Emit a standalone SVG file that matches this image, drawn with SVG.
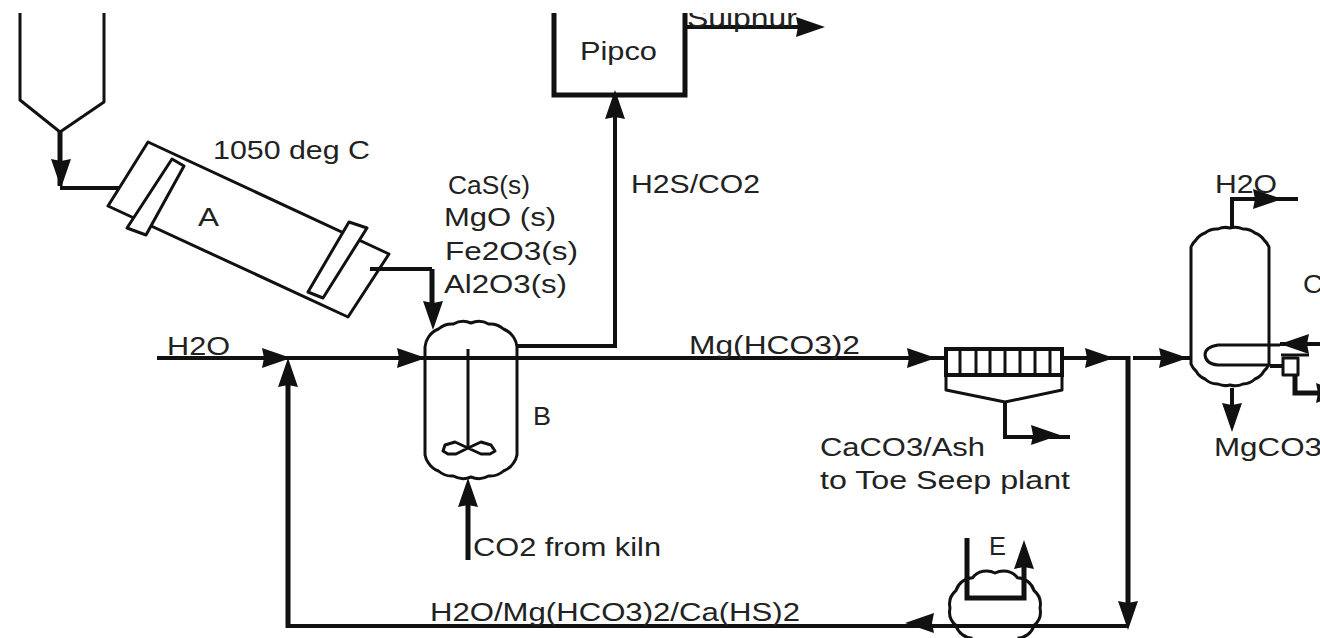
<svg xmlns="http://www.w3.org/2000/svg" width="1320" height="638" viewBox="0 0 1320 638">
<style>
text{font-family:"Liberation Sans",Arial,sans-serif;font-size:25px;fill:#222}
.l{fill:none;stroke:#111;stroke-width:3;stroke-linejoin:round}
.m{fill:none;stroke:#111;stroke-width:4;stroke-linejoin:miter}
.t{fill:none;stroke:#111;stroke-width:5;stroke-linejoin:miter}
.w{fill:#fff;stroke:#111;stroke-width:3;stroke-linejoin:round}
.a{fill:#111}
</style>
<defs>
<polygon id="ah" points="-29,-10 0,0 -29,10 -27,0"/>
<clipPath id="top"><rect x="0" y="13" width="1320" height="625"/></clipPath>
</defs>
<rect width="1320" height="638" fill="#fff"/>

<g id="connectors">
<path class="t" d="M60 132V186"/>
<path class="m" d="M60 188H125"/>
<path class="m" d="M370 269H432"/>
<path class="t" d="M432 269V305"/>
<path class="m" d="M157 358H945"/>
<path class="m" d="M517 346H615V110"/>
<path class="m" d="M1062 358H1126"/>
<path class="m" d="M1133 358H1191"/>
<path class="t" d="M1128 356V610"/>
<path class="m" d="M1128 626H288"/>
<path class="t" d="M288 628V375"/>
<path class="t" d="M468 560V490"/>
<path class="m" d="M1005 402V437H1070"/>
<path class="m" d="M1232 228V199H1298"/>
<path class="m" d="M1232 388V415"/>
<path class="m" d="M685 27H805"/>
<path class="m" d="M1320 344H1280"/>
<path class="m" d="M1270 366H1283"/>
<path class="t" d="M1295 374V393H1320"/>
<use href="#ah" class="a" transform="translate(61 188) rotate(90)"/>
<use href="#ah" class="a" transform="translate(433 330) rotate(90)"/>
<use href="#ah" class="a" transform="translate(291 358)"/>
<use href="#ah" class="a" transform="translate(426 358)"/>
<use href="#ah" class="a" transform="translate(615 90) rotate(-90)"/>
<use href="#ah" class="a" transform="translate(825 27)"/>
<use href="#ah" class="a" transform="translate(936 358)"/>
<use href="#ah" class="a" transform="translate(1114 358)"/>
<use href="#ah" class="a" transform="translate(1188 358)"/>
<use href="#ah" class="a" transform="translate(1060 435)"/>
<use href="#ah" class="a" transform="translate(1282 199)"/>
<use href="#ah" class="a" transform="translate(1232 432) rotate(90)"/>
<use href="#ah" class="a" transform="translate(1280 344) rotate(180)"/>
<use href="#ah" class="a" transform="translate(1345 393)"/>
<use href="#ah" class="a" transform="translate(1128 630) rotate(90)"/>
<use href="#ah" class="a" transform="translate(905 623) rotate(180)"/>
<use href="#ah" class="a" transform="translate(288 358) rotate(-90)"/>
<use href="#ah" class="a" transform="translate(468 478) rotate(-90)"/>
<use href="#ah" class="a" transform="translate(1024 540) rotate(-90)"/>
</g>

<g id="hopper">
<path class="l" d="M20 13V100L60 132L104 102V13"/>
</g>

<g id="kiln-A">
<path class="w" d="M148 142L389 254L348 317L108 206Z"/>
<path class="w" d="M172 159L184 166L146 235L127 228Z"/>
<path class="w" d="M349 222L367 228L323 298L308 292Z"/>
<path class="m" d="M370 269H386"/>
<text x="198" y="226" textLength="21" lengthAdjust="spacingAndGlyphs">A</text>
<text x="213" y="159" textLength="157" lengthAdjust="spacingAndGlyphs">1050 deg C</text>
</g>

<g id="vessel-B">
<path class="l" d="M425 347A20 20 0 0 1 428.5 337A20 20 0 0 1 438.5 329A20 20 0 0 1 453.4 324A20 20 0 0 1 471 323A20 20 0 0 1 488.6 324A20 20 0 0 1 503.5 329A20 20 0 0 1 513.5 337A20 20 0 0 1 517 347V455A20 20 0 0 1 513.5 463A20 20 0 0 1 503.5 471A20 20 0 0 1 488.6 476A20 20 0 0 1 471 477A20 20 0 0 1 453.4 476A20 20 0 0 1 438.5 471A20 20 0 0 1 428.5 463A20 20 0 0 1 425 455Z"/>
<path class="l" d="M468 349V448"/>
<path class="l" d="M468 448L455 442L445 445L443 451L448 454L456 454ZM468 448L481 442L491 445L495 451L490 454L481 454Z"/>
<text x="533" y="425" textLength="18" lengthAdjust="spacingAndGlyphs">B</text>
</g>

<g id="pipco">
<path class="t" d="M554 13V95H685V13"/>
<text x="580" y="60" textLength="77" lengthAdjust="spacingAndGlyphs">Pipco</text>
</g>

<g id="filter">
<path class="m" d="M946 349H1062V375H946Z"/>
<path class="l" d="M946 375V390L1005 402L1062 390V375"/>
<path class="l" d="M960 351V375M976 351V375M990 351V375M1005 351V375M1020 351V375M1035 351V375M1050 351V375"/>
</g>

<g id="vessel-C">
<path class="l" d="M1191 247A18 18 0 0 1 1196 240A18 18 0 0 1 1205 233A18 18 0 0 1 1218 229A18 18 0 0 1 1230 228A18 18 0 0 1 1243 229A18 18 0 0 1 1255 233A18 18 0 0 1 1264 240A18 18 0 0 1 1269 247V364A18 18 0 0 1 1264 371A18 18 0 0 1 1255 379A18 18 0 0 1 1243 384A18 18 0 0 1 1230 385A18 18 0 0 1 1218 384A18 18 0 0 1 1205 379A18 18 0 0 1 1196 371A18 18 0 0 1 1191 364Z"/>
<path class="l" d="M1280 345H1218Q1205 347 1205 355Q1206 364 1218 365H1270"/>
</g>

<g id="trap">
<rect class="l" x="1283" y="358" width="15" height="17"/>
<path class="l" d="M1281 355H1309"/>
</g>

<g id="evaporator-E">
<path class="l" d="M972.5 638.3A18 18 0 0 1 956 625.5A18 18 0 0 1 950 608A18 18 0 0 1 956 590.5A18 18 0 0 1 972.5 577.7A18 18 0 0 1 995 573A18 18 0 0 1 1017.5 577.7A18 18 0 0 1 1034 590.5A18 18 0 0 1 1040 608A18 18 0 0 1 1034 625.5A18 18 0 0 1 1017.5 638.3"/>
<path class="t" d="M967 538V598H1024V565"/>
<text x="989" y="555" textLength="17" lengthAdjust="spacingAndGlyphs">E</text>
</g>

<g id="labels">
<text x="448" y="194" textLength="82" lengthAdjust="spacingAndGlyphs">CaS(s)</text>
<text x="444" y="226" textLength="112" lengthAdjust="spacingAndGlyphs">MgO (s)</text>
<text x="445" y="260" textLength="133" lengthAdjust="spacingAndGlyphs">Fe2O3(s)</text>
<text x="444" y="293" textLength="123" lengthAdjust="spacingAndGlyphs">Al2O3(s)</text>
<text x="631" y="193" textLength="129" lengthAdjust="spacingAndGlyphs">H2S/CO2</text>
<text x="167" y="355" textLength="63" lengthAdjust="spacingAndGlyphs">H2O</text>
<text x="689" y="354" textLength="171" lengthAdjust="spacingAndGlyphs">Mg(HCO3)2</text>
<text x="820" y="456" textLength="165" lengthAdjust="spacingAndGlyphs">CaCO3/Ash</text>
<text x="820" y="489" textLength="250" lengthAdjust="spacingAndGlyphs">to Toe Seep plant</text>
<text x="473" y="556" textLength="188" lengthAdjust="spacingAndGlyphs">CO2 from kiln</text>
<text x="430" y="621" textLength="370" lengthAdjust="spacingAndGlyphs">H2O/Mg(HCO3)2/Ca(HS)2</text>
<text x="1215" y="193" textLength="62" lengthAdjust="spacingAndGlyphs">H2O</text>
<text x="1303" y="293" textLength="20" lengthAdjust="spacingAndGlyphs">C</text>
<text x="1214" y="456" textLength="108" lengthAdjust="spacingAndGlyphs">MgCO3</text>
<g clip-path="url(#top)"><text x="687" y="27" textLength="110" lengthAdjust="spacingAndGlyphs">Sulphur</text></g>
</g>
</svg>
